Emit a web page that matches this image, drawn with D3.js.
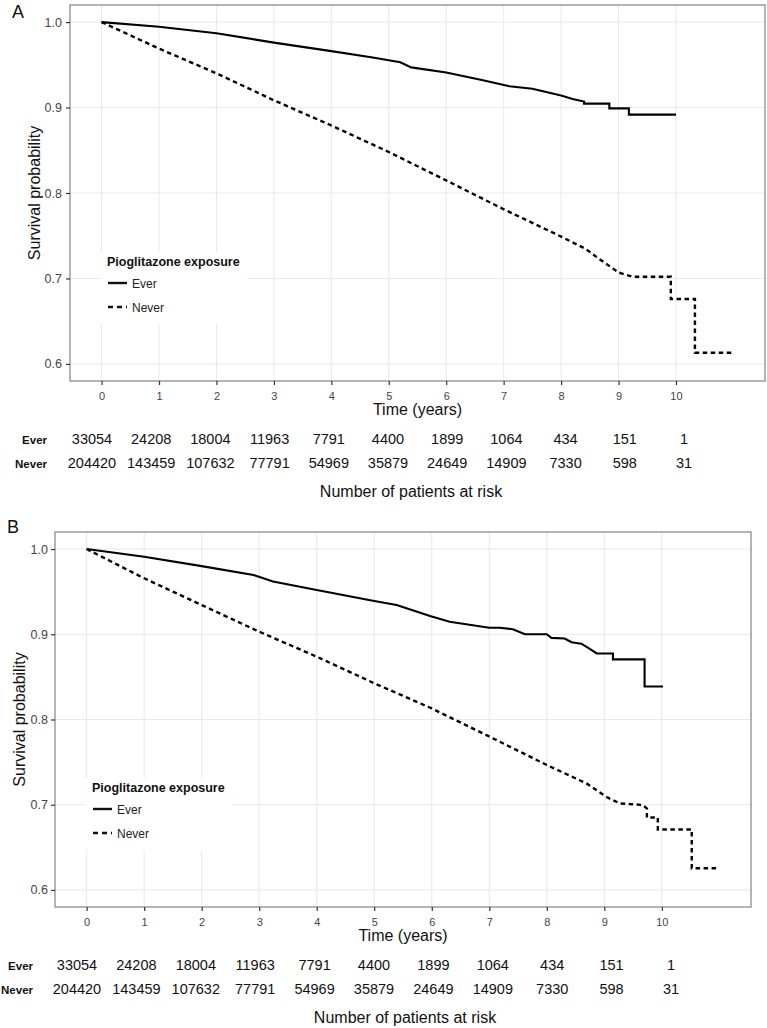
<!DOCTYPE html>
<html>
<head>
<meta charset="utf-8">
<script src="https://cdn.jsdelivr.net/npm/d3@7"></script>
<style>
body { margin: 0; background: #fff; }
svg { display: block; font-family: "Liberation Sans", Arial, Helvetica, sans-serif; }
</style>
</head>
<body>
<svg id="chart" width="767" height="1028"></svg>
<script>
// tick values and labels
var years = [0, 1, 2, 3, 4, 5, 6, 7, 8, 9, 10];
var survTicks = [0.6, 0.7, 0.8, 0.9, 1.0];
var groups = ["Ever", "Never"];
var legendTitle = "Pioglitazone exposure";

// patients at risk (same table under both panels)
var riskEver = [33054, 24208, 18004, 11963, 7791, 4400, 1899, 1064, 434, 151, 1];
var riskNever = [204420, 143459, 107632, 77791, 54969, 35879, 24649, 14909, 7330, 598, 31];

// panel A curves (repeated times are steps)
var aEverTime = [0, 1, 2, 3, 4, 4.72, 5.2, 5.39, 6, 6.64, 7.1, 7.5, 8, 8.2, 8.4, 8.4, 8.84, 8.84, 9.18, 9.18, 10];
var aEverSurv = [1, 0.9945, 0.987, 0.976, 0.966, 0.9586, 0.953, 0.947, 0.941, 0.932, 0.925, 0.922, 0.914, 0.91, 0.907, 0.9046, 0.9046, 0.899, 0.899, 0.8917, 0.8917];
var aNeverTime = [0, 1, 2, 3, 4, 5, 6, 7, 8, 8.43, 8.66, 9, 9.24, 9.91, 9.91, 10.33, 10.33, 10.98];
var aNeverSurv = [1, 0.969, 0.94, 0.9085, 0.879, 0.848, 0.8147, 0.781, 0.749, 0.7345, 0.723, 0.707, 0.702, 0.702, 0.676, 0.676, 0.613, 0.613];

// panel B curves
var bEverTime = [0, 1, 2, 2.9, 3.24, 4, 5, 5.39, 5.97, 6.31, 7, 7.18, 7.41, 7.62, 8, 8.08, 8.31, 8.43, 8.6, 8.72, 8.87, 9.15, 9.15, 9.7, 9.7, 10.02];
var bEverSurv = [1, 0.991, 0.98, 0.9695, 0.962, 0.952, 0.939, 0.9343, 0.9214, 0.9147, 0.9077, 0.9077, 0.906, 0.9, 0.9, 0.8958, 0.895, 0.8906, 0.889, 0.884, 0.8775, 0.8775, 0.8705, 0.8705, 0.8387, 0.8387];
var bNeverTime = [0, 1, 2, 3, 4, 5, 6, 7, 7.18, 8, 8.69, 9.04, 9.27, 9.67, 9.74, 9.74, 9.93, 9.93, 10.52, 10.52, 11];
var bNeverSurv = [1, 0.9657, 0.9343, 0.903, 0.8737, 0.8425, 0.813, 0.78, 0.774, 0.7466, 0.725, 0.709, 0.7015, 0.6997, 0.6955, 0.685, 0.685, 0.671, 0.671, 0.6255, 0.6255];

var svg = d3.select("#chart");

function pts(times, surv) {
    return times.map(function (t, i) { return { t: t, s: surv[i] }; });
}

function drawPanel(p) {
    var x = d3.scaleLinear().domain([-0.55, 11.55]).range([p.left, p.right]);
    var y = d3.scaleLinear().domain([0.58, 1.02]).range([p.bottom, p.top]);
    var g = svg.append("g");

    // panel letter
    g.append("text")
        .attr("x", p.labelX).attr("y", p.labelY)
        .attr("font-size", 18).attr("fill", "#111")
        .text(p.label);

    // grid
    g.append("g").selectAll("line").data(years).enter().append("line")
        .attr("x1", function (d) { return x(d); }).attr("x2", function (d) { return x(d); })
        .attr("y1", p.top).attr("y2", p.bottom)
        .attr("stroke", "#e8e8e8").attr("stroke-width", 1);
    g.append("g").selectAll("line").data(survTicks).enter().append("line")
        .attr("x1", p.left).attr("x2", p.right)
        .attr("y1", function (d) { return y(d); }).attr("y2", function (d) { return y(d); })
        .attr("stroke", "#e8e8e8").attr("stroke-width", 1);

    // legend box (drawn before curves, over the grid)
    g.append("rect")
        .attr("x", p.legX).attr("y", p.legY).attr("width", 147).attr("height", 72)
        .attr("fill", "#fff");

    // curves
    var line = d3.line()
        .x(function (d) { return x(d.t); })
        .y(function (d) { return y(d.s); });
    g.append("path")
        .attr("d", line(pts(p.everTime, p.everSurv)))
        .attr("fill", "none").attr("stroke", "#000").attr("stroke-width", 2.1);
    g.append("path")
        .attr("d", line(pts(p.neverTime, p.neverSurv)))
        .attr("fill", "none").attr("stroke", "#000").attr("stroke-width", 2.4)
        .attr("stroke-dasharray", "4.5,3.5");

    // border
    g.append("rect")
        .attr("x", p.left).attr("y", p.top)
        .attr("width", p.right - p.left).attr("height", p.bottom - p.top)
        .attr("fill", "none").attr("stroke", "#8c8c8c").attr("stroke-width", 1.3);

    // axes
    var xAxis = d3.axisBottom(x).tickValues(years).tickSize(4).tickPadding(7);
    var yAxis = d3.axisLeft(y).tickValues(survTicks).tickSize(4).tickPadding(p.yPad)
        .tickFormat(d3.format(".1f"));
    var gx = g.append("g").attr("transform", "translate(0," + p.bottom + ")").call(xAxis);
    var gy = g.append("g").attr("transform", "translate(" + p.left + ",0)").call(yAxis);
    [gx, gy].forEach(function (a) {
        a.select(".domain").remove();
        a.selectAll(".tick line").attr("stroke", "#333").attr("stroke-width", 1.2);
        a.selectAll(".tick text").attr("fill", "#444").attr("font-family", null);
    });
    gx.selectAll(".tick text").attr("font-size", 11);
    gy.selectAll(".tick text").attr("font-size", 12.5);

    // axis titles
    g.append("text")
        .attr("x", (p.left + p.right) / 2).attr("y", p.bottom + 34)
        .attr("text-anchor", "middle").attr("font-size", 16).attr("fill", "#111")
        .text("Time (years)");
    g.append("text")
        .attr("transform", "translate(" + p.yTitleX + "," + ((p.top + p.bottom) / 2) + ") rotate(-90)")
        .attr("text-anchor", "middle").attr("font-size", 16).attr("fill", "#111")
        .text("Survival probability");

    // legend
    g.append("text")
        .attr("x", p.legX + 7).attr("y", p.legY + 14)
        .attr("font-size", 12.5).attr("font-weight", "bold").attr("fill", "#111")
        .text(legendTitle);
    groups.forEach(function (name, i) {
        var ky = p.legY + 31 + i * 24;
        g.append("line")
            .attr("x1", p.legX + 8).attr("x2", p.legX + 27)
            .attr("y1", ky).attr("y2", ky)
            .attr("stroke", "#111").attr("stroke-width", 2.4)
            .attr("stroke-dasharray", i === 0 ? null : "5,4");
        g.append("text")
            .attr("x", p.legX + 32).attr("y", ky + 4.5)
            .attr("font-size", 12).attr("fill", "#222")
            .text(name);
    });

    // risk table
    var tx = d3.scaleLinear().domain([0, 10]).range([p.tableX0, p.tableX1]);
    [riskEver, riskNever].forEach(function (row, i) {
        var ry = p.bottom + 63 + i * 24;
        g.append("text")
            .attr("x", p.rowLabelX).attr("y", ry - 0.5)
            .attr("text-anchor", "end").attr("font-size", 11.5).attr("font-weight", "bold")
            .attr("fill", "#111")
            .text(groups[i]);
        g.append("g").selectAll("text").data(row).enter().append("text")
            .attr("x", function (d, j) { return tx(years[j]); })
            .attr("y", ry)
            .attr("text-anchor", "middle").attr("font-size", 14.5).attr("fill", "#111")
            .text(function (d) { return d; });
    });
    g.append("text")
        .attr("x", p.tableTitleX).attr("y", p.bottom + 116)
        .attr("text-anchor", "middle").attr("font-size", 16).attr("fill", "#111")
        .text("Number of patients at risk");
}

drawPanel({
    label: "A", labelX: 12, labelY: 18,
    left: 70, right: 765, top: 5, bottom: 381, yPad: 4, yTitleX: 40,
    legX: 100, legY: 252,
    tableX0: 92, tableX1: 684, rowLabelX: 47, tableTitleX: 411,
    everTime: aEverTime, everSurv: aEverSurv,
    neverTime: aNeverTime, neverSurv: aNeverSurv
});

drawPanel({
    label: "B", labelX: 7, labelY: 533,
    left: 55, right: 751, top: 532, bottom: 907, yPad: 3, yTitleX: 25,
    legX: 85, legY: 778,
    tableX0: 77, tableX1: 671, rowLabelX: 33, tableTitleX: 405,
    everTime: bEverTime, everSurv: bEverSurv,
    neverTime: bNeverTime, neverSurv: bNeverSurv
});
</script>
</body>
</html>
